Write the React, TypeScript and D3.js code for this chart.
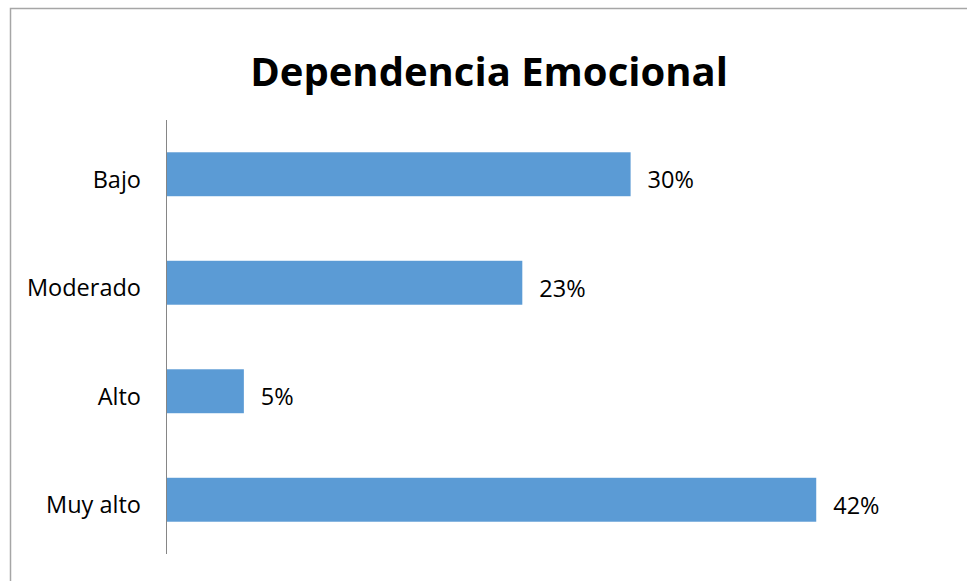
import React from "react";
import * as d3 from "d3";

const categories = ["Bajo", "Moderado", "Alto", "Muy alto"];
const values = [0.30, 0.23, 0.05, 0.42];
const labels = ["30%", "23%", "5%", "42%"];
const title = "Dependencia Emocional";

export default function App() {
  const W = 967, H = 581;
  const x = d3.scaleLinear().domain([0, 0.5]).range([166.5, 940]);
  const y = d3.scaleBand().domain(categories).range([120, 554]).paddingInner(0.595).paddingOuter(0.2975);
  const font = "'Open Sans', 'Noto Sans', sans-serif";
  return (
    <svg width={W} height={H} style={{ position: "absolute", left: 0, top: 0 }}>
      <rect x={0} y={0} width={W} height={H} fill="#fff" />
      <path d="M10.5,581 V8.5 H967" fill="none" stroke="#a6a6a6" strokeWidth={1.5} />
      <text x={489} y={86} textAnchor="middle" fontFamily={font} fontWeight="bold" fontSize={40} fill="#000">{title}</text>
      {categories.map((c, i) => (
        <g key={c}>
          <rect x={x(0)} y={y(c)} width={x(values[i]) - x(0)} height={y.bandwidth()} fill="#5b9bd5" />
          <text x={141} y={(y(c) as number) + y.bandwidth() / 2 + 13.5} textAnchor="end" fontFamily={font} fontSize={23.5} fill="#000">{c}</text>
          <text x={x(values[i]) + 17} y={(y(c) as number) + y.bandwidth() / 2 + 14} textAnchor="start" fontFamily={font} fontSize={23.5} fill="#000">{labels[i]}</text>
        </g>
      ))}
      <line x1={166.5} x2={166.5} y1={120} y2={554} stroke="#868686" strokeWidth={1} />
    </svg>
  );
}
